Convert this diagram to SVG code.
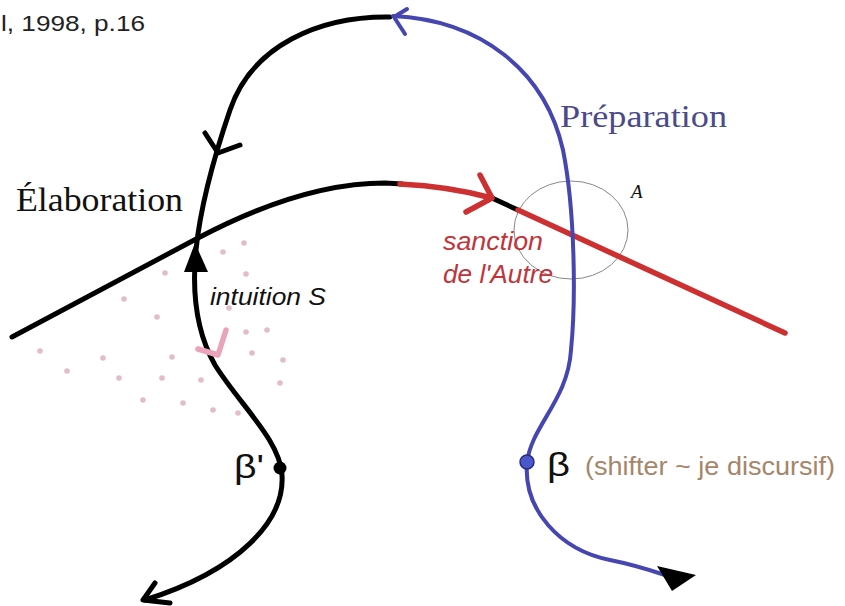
<svg xmlns="http://www.w3.org/2000/svg" width="845" height="606" viewBox="0 0 845 606">
<style>
.blk{fill:none;stroke:#000;stroke-width:5;stroke-linecap:round;stroke-linejoin:round}
.blu{fill:none;stroke:#4646b0;stroke-width:4;stroke-linecap:round;stroke-linejoin:round}
.red{fill:none;stroke:#cc3030;stroke-width:5.5;stroke-linecap:round;stroke-linejoin:round}
.dot{fill:#e2bccb}
.sans{font-family:"Liberation Sans",Arial,sans-serif}
.serif{font-family:"Liberation Serif","Times New Roman",serif}
</style>
<rect width="845" height="606" fill="#fff"/>
<text class="sans" x="1" y="31" font-size="22" fill="#222" textLength="144" lengthAdjust="spacingAndGlyphs">l, 1998, p.16</text>
<g id="dots">
<circle class="dot" cx="244" cy="243" r="2.8"/><circle class="dot" cx="223" cy="252" r="2.8"/><circle class="dot" cx="165" cy="273" r="2.8"/><circle class="dot" cx="246" cy="274" r="2.8"/><circle class="dot" cx="124" cy="299" r="2.8"/><circle class="dot" cx="229" cy="308" r="2.8"/><circle class="dot" cx="157" cy="317" r="2.8"/><circle class="dot" cx="246" cy="332" r="2.8"/><circle class="dot" cx="267" cy="330" r="2.8"/><circle class="dot" cx="40" cy="351" r="2.8"/><circle class="dot" cx="103" cy="358" r="2.8"/><circle class="dot" cx="172" cy="357" r="2.8"/><circle class="dot" cx="252" cy="353" r="2.8"/><circle class="dot" cx="283" cy="360" r="2.8"/><circle class="dot" cx="67" cy="371" r="2.8"/><circle class="dot" cx="119" cy="378" r="2.8"/><circle class="dot" cx="162" cy="378" r="2.8"/><circle class="dot" cx="201" cy="380" r="2.8"/><circle class="dot" cx="280" cy="383" r="2.8"/><circle class="dot" cx="143" cy="400" r="2.8"/><circle class="dot" cx="183" cy="403" r="2.8"/><circle class="dot" cx="213" cy="410" r="2.8"/><circle class="dot" cx="238" cy="413" r="2.8"/>
</g>
<g id="circleA">
<ellipse cx="571" cy="230" rx="57" ry="49" fill="none" stroke="#888" stroke-width="1"/>
<text class="serif" x="631" y="198" font-size="19" font-style="italic" fill="#111">A</text>
</g>
<g id="connectors">
<path class="blk" d="M12 337 L198 238 C270 200 330 183 385 183 L402 184"/>
<path class="red" d="M400 184 C440 186 470 192 492 198"/>
<path class="blk" d="M492 198 L518 210"/>
<path class="red" d="M518 210 L785 333"/>
<path class="red" d="M480 175 L492 198 L466 212"/>
<path class="blk" d="M390 17 C320 16 252 45 230 110 C213 160 200 210 196 250 C192 290 195 330 215 365 C240 405 280 440 282 475 C285 520 240 570 145 600"/>
<path class="blk" d="M205 133 L218 153 L240 145"/>
<path class="blk" d="M155 583 L143 600 L170 603"/>
<polygon points="195,243 184,272 208,272" fill="#000"/>
<path class="blu" d="M393 16 C480 20 545 70 563 150 C575 210 576 300 571 350 C568 400 532 425 527 462 C523 510 560 550 610 560 C635 565 650 570 665 575"/>
<path class="blu" d="M407 9 L394 17 L405 34"/>
<polygon points="657,566 696,575 672,591" fill="#000"/>
<path d="M198 349 L218 355 L226 330" fill="none" stroke="#e9a3ba" stroke-width="5.5" stroke-linecap="round" stroke-linejoin="round"/>
</g>
<g id="elaboration"><text class="serif" x="16" y="211" font-size="33" fill="#111" textLength="167" lengthAdjust="spacingAndGlyphs">Élaboration</text></g>
<g id="preparation"><text class="serif" x="560" y="127" font-size="32" fill="#4b4b8a" textLength="167" lengthAdjust="spacingAndGlyphs">Préparation</text></g>
<g id="sanction">
<text class="sans" x="443" y="250" font-size="26" font-style="italic" fill="#c0343a" textLength="100" lengthAdjust="spacingAndGlyphs">sanction</text>
<text class="sans" x="443" y="283" font-size="26" font-style="italic" fill="#c0343a" textLength="110" lengthAdjust="spacingAndGlyphs">de l'Autre</text>
</g>
<g id="intuition"><text class="sans" x="210" y="305" font-size="23" font-style="italic" fill="#111" textLength="116" lengthAdjust="spacingAndGlyphs">intuition S</text></g>
<g id="betaprime">
<circle cx="280" cy="468" r="6.5" fill="#000"/>
<text class="sans" x="234" y="478" font-size="34" fill="#111" textLength="30" lengthAdjust="spacingAndGlyphs">β'</text>
</g>
<g id="beta">
<circle cx="527" cy="462" r="7" fill="#4a58cc" stroke="#2a2a80" stroke-width="1.5"/>
<text class="sans" x="547" y="476" font-size="34" fill="#111" textLength="23" lengthAdjust="spacingAndGlyphs">β</text>
<text class="sans" x="585" y="475" font-size="25" fill="#a6866a" textLength="250" lengthAdjust="spacingAndGlyphs">(shifter ~ je discursif)</text>
</g>
</svg>
